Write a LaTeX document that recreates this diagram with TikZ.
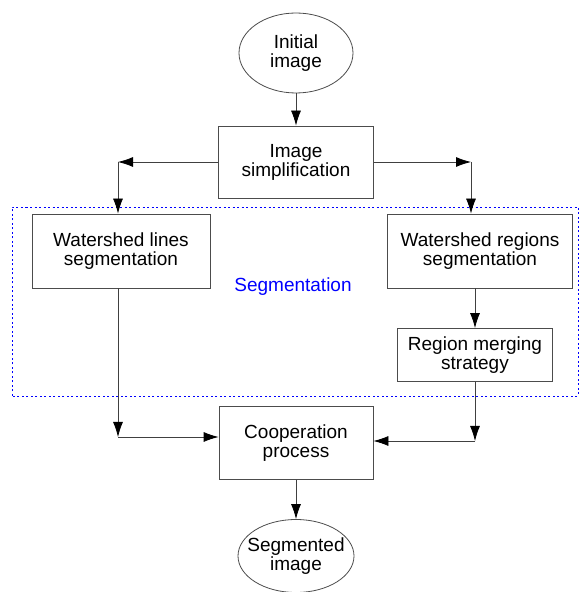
\documentclass[tikz,border=0pt]{standalone}
\usepackage{fontspec}
\setmainfont{Liberation Sans}
\usetikzlibrary{shapes.geometric,arrows.meta}

\begin{document}
\begin{tikzpicture}[x=1pt, y=1pt,
    font=\fontsize{19}{19}\selectfont,
    stagebox/.style={draw=black!70, line width=0.8pt, align=center, inner sep=0pt},
    termnode/.style={ellipse, draw=black!70, line width=0.8pt, align=center, inner xsep=-12pt, inner ysep=-4pt},
    flow/.style={draw=black!75, line width=0.8pt, -{Latex[length=15pt,width=10pt,black]}},
    segbox/.style={draw=blue, line width=0.9pt, dash pattern=on 2pt off 2.5pt}]
    \useasboundingbox (0,0) rectangle (579,592);

    \node[termnode, minimum width=114pt, minimum height=80pt] (init) at (296,539) {Initial\\image};
    \node[stagebox, below of=init, node distance=109pt, minimum width=155pt, minimum height=72pt] (simp) {Image\\simplification};

    \node[stagebox, below of=simp, node distance=89pt, xshift=-175pt, minimum width=178pt, minimum height=74pt] (lines) {Watershed lines\\segmentation};
    \node[stagebox, right of=lines, node distance=359pt, minimum width=185pt, minimum height=74pt] (regions) {Watershed regions\\segmentation};
    \node[stagebox, below of=regions, node distance=104pt, xshift=-5pt, minimum width=155pt, minimum height=53pt] (merge) {Region merging\\strategy};

    \node[stagebox, below of=simp, node distance=281pt, minimum width=154pt, minimum height=73pt] (coop) {Cooperation\\process};
    \node[termnode, below of=coop, node distance=113pt, minimum width=116pt, minimum height=73pt] (seg) {Segmented\\image};

    % segmentation stage
    \draw[segbox] (12,196) rectangle (578,385);
    \node[text=blue] (seglabel) at (293,305) {Segmentation};

    % corner points
    \path ([xshift=-3pt]lines.north) coordinate (lin);
    \path ([xshift=-9pt]regions.north) coordinate (rin);
    \path ([yshift=6pt]coop.west) coordinate (cw);
    \path ([yshift=2pt]coop.east) coordinate (ce);
    \coordinate (cL) at (lin |- simp.west);
    \coordinate (cR) at (rin |- simp.east);
    \coordinate (dL) at (lin |- cw);
    \coordinate (dR) at (merge.south |- ce);

    \draw[flow] (init) -- (simp);
    \draw[flow] (simp.west) -- (cL);
    \draw[flow] (cL) -- (lin);
    \draw[flow] (simp.east) -- (cR);
    \draw[flow] (cR) -- (rin);
    \draw[flow] (merge.north |- regions.south) -- (merge.north);
    \draw[flow] (lin |- lines.south) -- (dL);
    \draw[flow] (dL) -- (cw);
    \draw[flow] (merge.south) -- (dR);
    \draw[flow] (dR) -- (ce);
    \draw[flow] (coop) -- (seg);

\end{tikzpicture}
\end{document}
